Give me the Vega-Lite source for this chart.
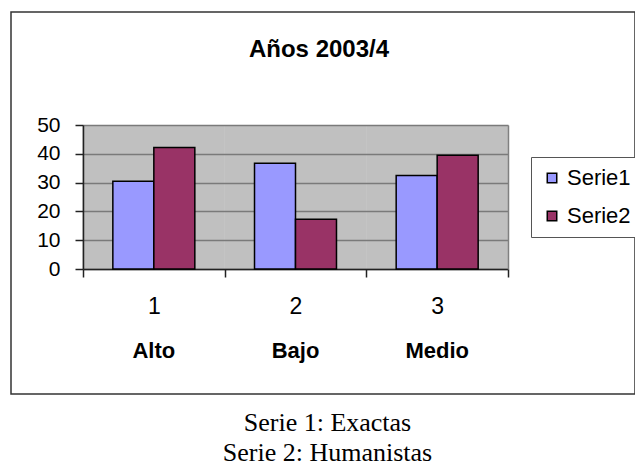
{
  "$schema": "https://vega.github.io/schema/vega-lite/v6.json",
  "width": 624,
  "height": 382,
  "padding": {"left": 11, "top": 12, "right": 0, "bottom": 71},
  "autosize": {"type": "none"},
  "background": "white",
  "config": {
    "view": {"stroke": "#333333", "strokeWidth": 1.5, "fill": "white"},
    "font": "Liberation Sans"
  },
  "title": {
    "text": "Años 2003/4",
    "font": "Liberation Sans",
    "fontSize": 24,
    "fontWeight": "bold",
    "color": "black",
    "anchor": "middle",
    "baseline": "alphabetic",
    "offset": -69,
    "dx": -4
  },
  "data": {
    "values": [
      {"nivel": "Alto", "serie": "Serie1", "valor": 30.5},
      {"nivel": "Alto", "serie": "Serie2", "valor": 42.2},
      {"nivel": "Bajo", "serie": "Serie1", "valor": 36.7},
      {"nivel": "Bajo", "serie": "Serie2", "valor": 17.3},
      {"nivel": "Medio", "serie": "Serie1", "valor": 32.5},
      {"nivel": "Medio", "serie": "Serie2", "valor": 39.5}
    ]
  },
  "layer": [
    {
      "mark": {"type": "point", "opacity": 0},
      "encoding": {
        "x": {
          "field": "nivel",
          "type": "nominal",
          "scale": {"range": [72, 497], "paddingInner": 0, "paddingOuter": 0},
          "axis": {
            "orient": "top",
            "offset": 0,
            "domain": false,
            "ticks": false,
            "labels": false,
            "grid": true,
            "gridColor": "#C0C0C0",
            "gridWidth": 142.5,
            "gridOpacity": 1,
            "title": null
          }
        },
        "y": {
          "field": "valor",
          "type": "quantitative",
          "scale": {"domain": [0, 50], "range": [257, 113], "nice": false, "zero": true},
          "axis": {
            "orient": "right",
            "offset": -127,
            "domainColor": "#808080",
            "domainWidth": 1.5,
            "labels": false,
            "ticks": false,
            "grid": false,
            "title": null
          }
        }
      }
    },
    {
      "mark": {"type": "point", "opacity": 0},
      "encoding": {
        "x": {
          "field": "nivel",
          "type": "nominal",
          "axis": {
            "orient": "bottom",
            "offset": -125,
            "domain": false,
            "ticks": false,
            "tickSize": 0,
            "grid": false,
            "labelAngle": 0,
            "labelFont": "Liberation Sans",
            "labelFontSize": 22,
            "labelFontWeight": "bold",
            "labelColor": "black",
            "labelPadding": 71,
            "title": ["Serie 1: Exactas", "Serie 2: Humanistas"],
            "titleFont": "Liberation Serif",
            "titleFontSize": 26,
            "titleFontWeight": "normal",
            "titleColor": "black",
            "titleLineHeight": 30,
            "titleBaseline": "alphabetic",
            "titleAlign": "center",
            "titleX": 316,
            "titleY": 161
          }
        },
        "y": {
          "field": "valor",
          "type": "quantitative",
          "axis": null
        }
      }
    },
    {
      "mark": {"type": "bar", "stroke": "black", "strokeWidth": 1.5},
      "encoding": {
        "x": {
          "field": "nivel",
          "type": "nominal",
          "axis": {
            "orient": "bottom",
            "offset": -125,
            "domain": true,
            "domainColor": "#222222",
            "domainWidth": 1.5,
            "ticks": true,
            "tickBand": "extent",
            "tickColor": "#222222",
            "tickWidth": 1.5,
            "tickSize": 8,
            "grid": false,
            "labelAngle": 0,
            "labelExpr": "datum.label == 'Alto' ? '1' : datum.label == 'Bajo' ? '2' : datum.label == 'Medio' ? '3' : ''",
            "labelFont": "Liberation Sans",
            "labelFontSize": 23,
            "labelFontWeight": "normal",
            "labelColor": "black",
            "labelPadding": 18,
            "title": null
          }
        },
        "xOffset": {
          "field": "serie",
          "type": "nominal",
          "scale": {"paddingInner": 0, "paddingOuter": 0.728}
        },
        "y": {
          "field": "valor",
          "type": "quantitative",
          "stack": null,
          "axis": {
            "orient": "left",
            "offset": -72,
            "values": [0, 10, 20, 30, 40, 50],
            "domain": true,
            "domainColor": "#222222",
            "domainWidth": 1.5,
            "ticks": true,
            "tickColor": "#222222",
            "tickWidth": 1.5,
            "tickSize": 8,
            "grid": true,
            "gridColor": "#7a7a7a",
            "gridWidth": 1.5,
            "labelFont": "Liberation Sans",
            "labelFontSize": 21,
            "labelColor": "black",
            "labelPadding": 15,
            "title": null
          }
        },
        "color": {
          "field": "serie",
          "type": "nominal",
          "scale": {"domain": ["Serie1", "Serie2"], "range": ["#9999FF", "#993366"]},
          "legend": {
            "orient": "none",
            "legendX": 520,
            "legendY": 145,
            "title": null,
            "symbolType": "square",
            "symbolSize": 90,
            "symbolStrokeColor": "black",
            "symbolStrokeWidth": 1.5,
            "symbolOpacity": 1,
            "labelFont": "Liberation Sans",
            "labelFontSize": 22,
            "labelColor": "black",
            "labelOffset": 4,
            "rowPadding": 16,
            "padding": 10,
            "strokeColor": "#555555",
            "fillColor": "white"
          }
        }
      }
    }
  ],
  "resolve": {"axis": {"x": "independent", "y": "independent"}}
}
